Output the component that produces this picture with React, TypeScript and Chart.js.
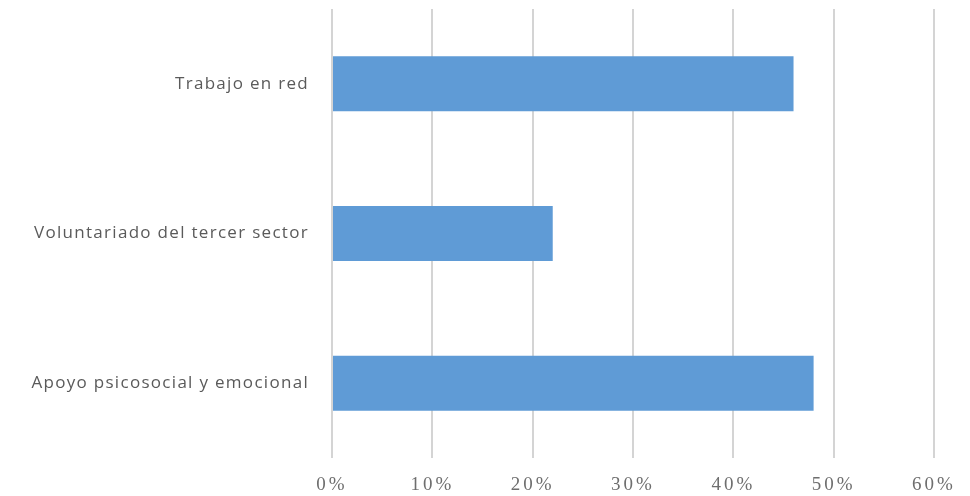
import React, { useEffect, useRef } from "react";
import { Chart, registerables } from "chart.js";

Chart.register(...registerables);

const categories = ["Trabajo en red", "Voluntariado del tercer sector", "Apoyo psicosocial y emocional"];
const values = [46, 22, 48];
const xMin = 0;
const xMax = 60;
const xStep = 10;

function wrapSpacing(scale: any, spacing: string) {
  if (!scale || scale.__spaced) return;
  const orig = scale.drawLabels.bind(scale);
  scale.drawLabels = (area: any) => {
    const ctx = scale.ctx as any;
    const prev = ctx.letterSpacing;
    ctx.letterSpacing = spacing;
    orig(area);
    ctx.letterSpacing = prev || "0px";
  };
  scale.__spaced = true;
}

const spacingPlugin = {
  id: "labelSpacing",
  beforeDraw(chart: any) {
    wrapSpacing(chart.scales.x, "3px");
    wrapSpacing(chart.scales.y, "1.3px");
  },
};

export default function App() {
  const ref = useRef<HTMLCanvasElement | null>(null);
  useEffect(() => {
    if (!ref.current) return;
    const chart = new Chart(ref.current, {
      type: "bar",
      data: {
        labels: categories,
        datasets: [
          {
            data: values,
            backgroundColor: "#5f9bd6",
            borderWidth: 0,
            categoryPercentage: 1,
            barPercentage: 0.367,
          },
        ],
      },
      plugins: [spacingPlugin],
      options: {
        indexAxis: "y",
        responsive: false,
        animation: false,
        layout: { padding: { top: 9, right: 36, left: 0, bottom: 0 } },
        plugins: { legend: { display: false }, tooltip: { enabled: false } },
        scales: {
          x: {
            min: xMin,
            max: xMax,
            ticks: {
              stepSize: xStep,
              padding: 16,
              color: "#6e6e6e",
              font: { family: "'Liberation Serif', serif", size: 19 },
              callback: (v: any) => v + "%",
            },
            grid: { color: "#d4d4d4", lineWidth: 2, drawTicks: false },
            border: { display: false },
            afterFit: (s: any) => {
              s.height = 38;
              s.paddingLeft = 0;
              s.paddingRight = 0;
            },
          },
          y: {
            ticks: {
              padding: 23,
              color: "#5a5a5a",
              font: { family: "'Open Sans', sans-serif", size: 17 },
            },
            grid: { display: false, drawTicks: false },
            border: { display: false },
            afterFit: (s: any) => {
              s.width = 332;
              s.paddingTop = 0;
              s.paddingBottom = 0;
            },
          },
        },
      },
    });
    return () => chart.destroy();
  }, []);
  return (
    <div style={{ position: "fixed", left: 0, top: 0, width: 970, height: 496, background: "#fff" }}>
      <canvas ref={ref} width={970} height={496} />
    </div>
  );
}
